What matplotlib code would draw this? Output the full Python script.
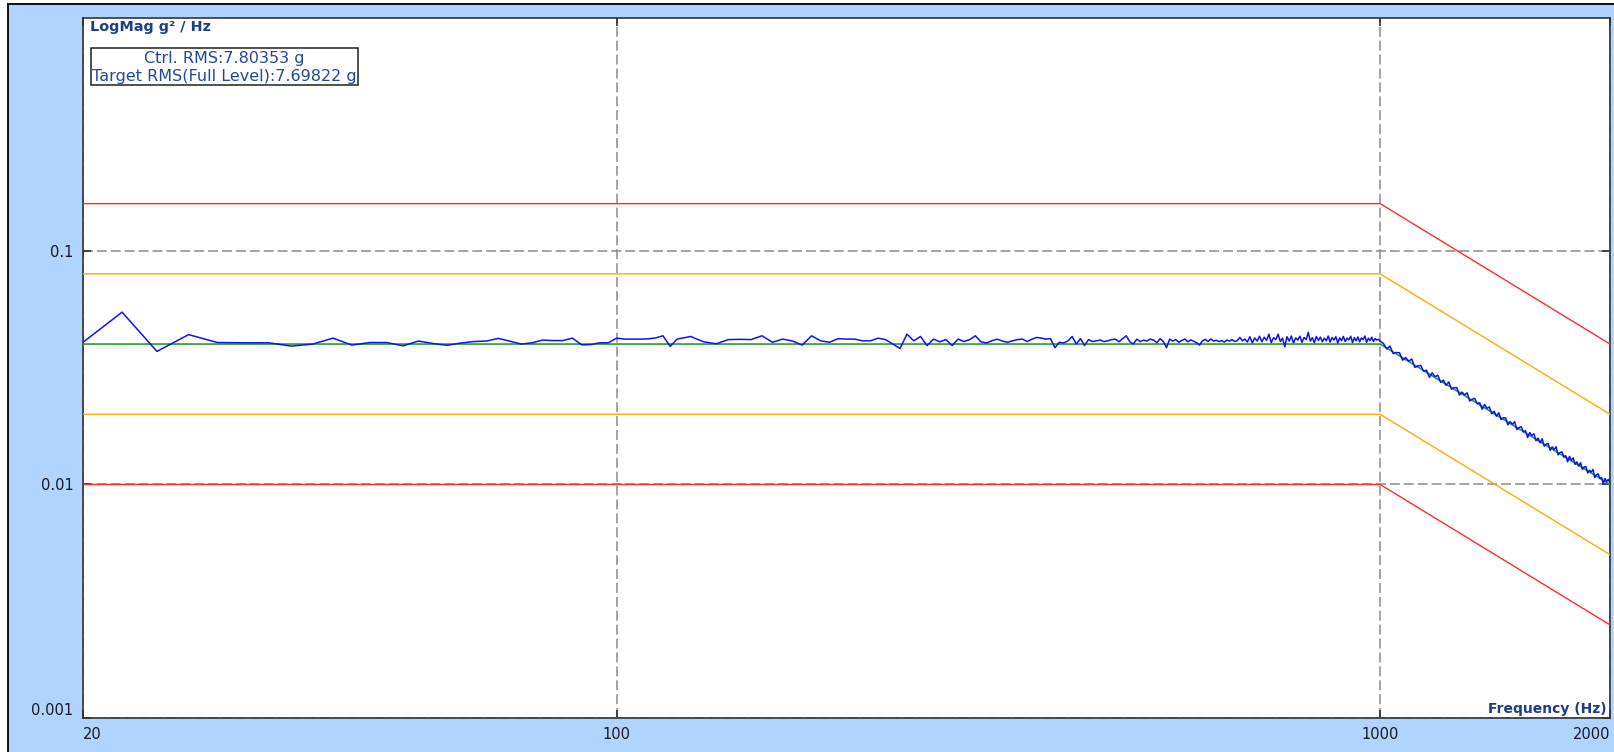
import numpy as np
import matplotlib
matplotlib.use("Agg")
import matplotlib.pyplot as plt
from matplotlib.patches import Rectangle
from matplotlib.lines import Line2D
from matplotlib.ticker import NullLocator

# ---------------- data ----------------
BP_FREQ = [20, 1000, 2000]
PROFILE = [0.04, 0.04, 0.01]
ALARM_HI = [0.08, 0.08, 0.02]
ALARM_LO = [0.02, 0.02, 0.005]
ABORT_HI = [0.16, 0.16, 0.04]
ABORT_LO = [0.01, 0.01, 0.0025]

CTRL_FREQ_LO = [20, 22.5, 25, 27.5, 30, 32.5, 35, 37.5, 40, 42.5,
                45, 47.5, 50, 52.5, 55, 57.5, 60, 62.5, 65, 67.5,
                70, 72.5, 75, 77.5, 80, 82.5, 85, 87.5, 90, 92.5,
                95, 97.5, 100, 102.5, 105, 107.5, 110, 112.5, 115, 117.5,
                120]
CTRL_PSD_LO = [0.0407, 0.0548, 0.0372, 0.0439, 0.0406, 0.0405, 0.0405, 0.0392, 0.0400, 0.0424,
               0.0396, 0.0406, 0.0406, 0.0393, 0.0412, 0.0402, 0.0395, 0.0404, 0.0410, 0.0412,
               0.0423, 0.0411, 0.0400, 0.0405, 0.0416, 0.0414, 0.0414, 0.0424, 0.0397, 0.0398,
               0.0405, 0.0405, 0.0424, 0.0420, 0.0420, 0.0420, 0.0421, 0.0425, 0.0434, 0.0391,
               0.0420]

CTRL_FREQ_MID = [125, 130, 135, 140, 145, 150, 155, 160, 165, 170,
                 175, 180, 185, 190, 195, 200, 205, 210, 215, 220,
                 225, 230, 235, 240, 245, 250, 255, 260, 265, 270,
                 275, 280, 285, 290, 295, 300, 305, 310, 315, 320,
                 325, 330, 335, 340, 345, 350, 355, 360, 365, 370,
                 375, 380, 385, 390, 395, 400, 405, 410, 415, 420,
                 425, 430, 435, 440, 445, 450, 455, 460, 465, 470,
                 475, 480, 485, 490, 495, 500]
CTRL_PSD_MID = [0.0431, 0.0409, 0.0401, 0.0418, 0.0419, 0.0418, 0.0434, 0.0407, 0.0420, 0.0412,
                0.0396, 0.0434, 0.0413, 0.0407, 0.0422, 0.0420, 0.0420, 0.0413, 0.0413, 0.0424,
                0.0418, 0.0400, 0.0383, 0.0441, 0.0413, 0.0431, 0.0394, 0.0420, 0.0409, 0.0418,
                0.0394, 0.0420, 0.0410, 0.0418, 0.0434, 0.0409, 0.0404, 0.0413, 0.0420, 0.0412,
                0.0407, 0.0413, 0.0418, 0.0420, 0.0410, 0.0420, 0.0427, 0.0424, 0.0420, 0.0422,
                0.0386, 0.0407, 0.0404, 0.0413, 0.0431, 0.0400, 0.0422, 0.0394, 0.0418, 0.0410,
                0.0413, 0.0416, 0.0410, 0.0413, 0.0418, 0.0420, 0.0409, 0.0422, 0.0434, 0.0409,
                0.0400, 0.0420, 0.0410, 0.0416, 0.0412, 0.0420]

CTRL_FREQ_HI = [505, 510, 515, 520, 525, 530, 535, 540, 545, 550,
                555, 560, 565, 570, 575, 580, 585, 590, 595, 600,
                605, 610, 615, 620, 625, 630, 635, 640, 645, 650,
                655, 660, 665, 670, 675, 680, 685, 690, 695, 700,
                705, 710, 715, 720, 725, 730, 735, 740, 745, 750,
                755, 760, 765, 770, 775, 780, 785, 790, 795, 800,
                805, 810, 815, 820, 825, 830, 835, 840, 845, 850,
                855, 860, 865, 870, 875, 880, 885, 890, 895, 900,
                905, 910, 915, 920, 925, 930, 935, 940, 945, 950,
                955, 960, 965, 970, 975, 980, 985, 990, 995, 1000]
CTRL_PSD_HI = [0.0416, 0.0405, 0.0422, 0.0410, 0.0386, 0.0420, 0.0412, 0.0418, 0.0407, 0.0415,
               0.0420, 0.0409, 0.0417, 0.0411, 0.0405, 0.0396, 0.0413, 0.0419, 0.0410, 0.0420,
               0.0412, 0.0415, 0.0410, 0.0414, 0.0408, 0.0416, 0.0412, 0.0418, 0.0410, 0.0414,
               0.0427, 0.0413, 0.0420, 0.0408, 0.0430, 0.0405, 0.0425, 0.0412, 0.0432, 0.0409,
               0.0428, 0.0415, 0.0441, 0.0406, 0.0426, 0.0418, 0.0441, 0.0410, 0.0424, 0.0389,
               0.0430, 0.0412, 0.0433, 0.0404, 0.0425, 0.0416, 0.0432, 0.0407, 0.0427, 0.0418,
               0.0449, 0.0412, 0.0426, 0.0405, 0.0431, 0.0415, 0.0428, 0.0409, 0.0424, 0.0413,
               0.0433, 0.0408, 0.0427, 0.0416, 0.0430, 0.0404, 0.0425, 0.0414, 0.0431, 0.0410,
               0.0424, 0.0417, 0.0432, 0.0406, 0.0426, 0.0413, 0.0429, 0.0409, 0.0425, 0.0418,
               0.0433, 0.0407, 0.0424, 0.0414, 0.0428, 0.0410, 0.0422, 0.0416, 0.0419, 0.0412]

CTRL_FREQ_SLOPE = [1010, 1020, 1030, 1040, 1050, 1060, 1070, 1080, 1090, 1100,
                   1110, 1120, 1130, 1140, 1150, 1160, 1170, 1180, 1190, 1200,
                   1210, 1220, 1230, 1240, 1250, 1260, 1270, 1280, 1290, 1300,
                   1310, 1320, 1330, 1340, 1350, 1360, 1370, 1380, 1390, 1400,
                   1410, 1420, 1430, 1440, 1450, 1460, 1470, 1480, 1490, 1500,
                   1510, 1520, 1530, 1540, 1550, 1560, 1570, 1580, 1590, 1600,
                   1610, 1620, 1630, 1640, 1650, 1660, 1670, 1680, 1690, 1700,
                   1710, 1720, 1730, 1740, 1750, 1760, 1770, 1780, 1790, 1800,
                   1810, 1820, 1830, 1840, 1850, 1860, 1870, 1880, 1890, 1900,
                   1910, 1920, 1930, 1940, 1950, 1960, 1970, 1980, 1990, 2000]
CTRL_PSD_SLOPE = [0.0402, 0.0381, 0.0392, 0.0364, 0.0368, 0.0367, 0.0341, 0.0350, 0.0338, 0.0345,
                  0.0318, 0.0322, 0.0324, 0.0306, 0.0309, 0.0288, 0.0301, 0.0290, 0.0294, 0.0274,
                  0.0280, 0.0266, 0.0275, 0.0256, 0.0260, 0.0260, 0.0242, 0.0249, 0.0242, 0.0247,
                  0.0228, 0.0232, 0.0234, 0.0222, 0.0224, 0.0210, 0.0220, 0.0212, 0.0215, 0.0201,
                  0.0206, 0.0196, 0.0203, 0.0190, 0.0193, 0.0193, 0.0180, 0.0186, 0.0181, 0.0186,
                  0.0172, 0.0175, 0.0177, 0.0168, 0.0170, 0.0159, 0.0167, 0.0162, 0.0165, 0.0154,
                  0.0158, 0.0151, 0.0157, 0.0146, 0.0149, 0.0150, 0.0140, 0.0145, 0.0141, 0.0145,
                  0.0134, 0.0137, 0.0138, 0.0131, 0.0133, 0.0125, 0.0132, 0.0127, 0.0130, 0.0122,
                  0.0125, 0.0120, 0.0124, 0.0116, 0.0119, 0.0119, 0.0112, 0.0115, 0.0113, 0.0116,
                  0.0107, 0.0110, 0.0111, 0.0106, 0.0107, 0.0101, 0.0106, 0.0103, 0.0105, 0.0102]

X_TICKS = [20, 100, 1000, 2000]
X_TICK_LABELS = ["20", "100", "1000", "2000"]
Y_TICKS = [0.001, 0.01, 0.1]
Y_TICK_LABELS = ["0.001", "0.01", "0.1"]
Y_TITLE = "LogMag g\u00b2 / Hz"
X_TITLE = "Frequency (Hz)"
CTRL_RMS_TEXT = "Ctrl. RMS:7.80353 g"
TARGET_RMS_TEXT = "Target RMS(Full Level):7.69822 g"

# ---------------- style ----------------
W, H = 1614, 752
BG_BLUE = "#B0D3FF"
RED = "#FF2B2B"
ORANGE = "#FFAA00"
GREEN = "#2E9B2E"
BLUE = "#0A14F0"
TITLE_BLUE = "#1F3C88"
LEG_BLUE = "#23489B"


def fx(x):
    return x / W


def fy(y):
    return 1 - y / H


fig = plt.figure(figsize=(W / 100, H / 100), dpi=100, facecolor="white")

# blue panel + dark border (left / top)
fig.patches.append(Rectangle((fx(8), 0), 1 - fx(8), fy(3.5), transform=fig.transFigure,
                             facecolor=BG_BLUE, edgecolor="none", zorder=-2))
fig.add_artist(Line2D([fx(8), fx(8)], [0, fy(3.5)], color="black", lw=1.3, zorder=-1))
fig.add_artist(Line2D([fx(8), 1], [fy(3.5), fy(3.5)], color="black", lw=1.3, zorder=-1))

ax = fig.add_axes([fx(83), fy(717.7), fx(1610) - fx(83), fy(18) - fy(717.7)])
ax.set_zorder(1)
ax.set_facecolor("white")
ax.set_xscale("log")
ax.set_yscale("log")
ax.set_xlim(20, 2000)
ax.set_ylim(0.001, 1)

ctrl_f = CTRL_FREQ_LO + CTRL_FREQ_MID + CTRL_FREQ_HI + CTRL_FREQ_SLOPE
ctrl_v = CTRL_PSD_LO + CTRL_PSD_MID + CTRL_PSD_HI + CTRL_PSD_SLOPE
pairs = list(zip(ctrl_f, ctrl_v))
ctrl_f = [p[0] for p in pairs]
ctrl_v = [p[1] for p in pairs]

lw = 1.0
ax.plot(BP_FREQ, ABORT_HI, color=RED, lw=lw, zorder=3)
ax.plot(BP_FREQ, ABORT_LO, color=RED, lw=lw, zorder=3)
ax.plot(BP_FREQ, ALARM_HI, color=ORANGE, lw=lw, zorder=3)
ax.plot(BP_FREQ, ALARM_LO, color=ORANGE, lw=lw, zorder=3)
ax.plot(BP_FREQ, PROFILE, color=GREEN, lw=1.2, zorder=3)
ax.plot(ctrl_f, ctrl_v, color=BLUE, lw=1.1, zorder=4)

ax.set_xticks(X_TICKS, labels=X_TICK_LABELS)
ax.set_yticks(Y_TICKS, labels=Y_TICK_LABELS)
ax.xaxis.set_minor_locator(NullLocator())
ax.yaxis.set_minor_locator(NullLocator())
ax.tick_params(which="major", direction="in", length=5.5, width=1.2, color="#303030",
               top=True, right=True, labelsize=10.5, labelcolor="#1a1a1a", pad=7)
xl = ax.get_xticklabels()
xl[0].set_ha("left")
xl[-1].set_ha("right")
yl = ax.get_yticklabels()
yl[0].set_va("bottom")

ax.set_axisbelow(True)
ax.grid(True, which="major", color="#8a8a8a", linestyle=(0, (6.5, 2.6)), linewidth=1.1)
for s in ax.spines.values():
    s.set_color("#333333")
    s.set_linewidth(1.2)

# axis titles
fig.text(fx(90), fy(30.5), Y_TITLE, ha="left", va="baseline", fontsize=10.4,
         fontweight="bold", color=TITLE_BLUE, zorder=6)
fig.text(fx(1607), fy(713), X_TITLE, ha="right", va="baseline", fontsize=10,
         fontweight="bold", color=TITLE_BLUE, zorder=6)

# RMS box
fig.patches.append(Rectangle((fx(90.7), fy(85)), fx(357.7) - fx(90.7), fy(48) - fy(85),
                             transform=fig.transFigure, facecolor="white",
                             edgecolor="#202020", lw=1.1, zorder=5))
fig.text(fx(224), fy(58.3), CTRL_RMS_TEXT, ha="center", va="center", fontsize=11.5,
         color=LEG_BLUE, zorder=6)
fig.text(fx(224), fy(76.7), TARGET_RMS_TEXT, ha="center", va="center", fontsize=11.5,
         color=LEG_BLUE, zorder=6)

fig.savefig("out.png", dpi=100, facecolor="white")
